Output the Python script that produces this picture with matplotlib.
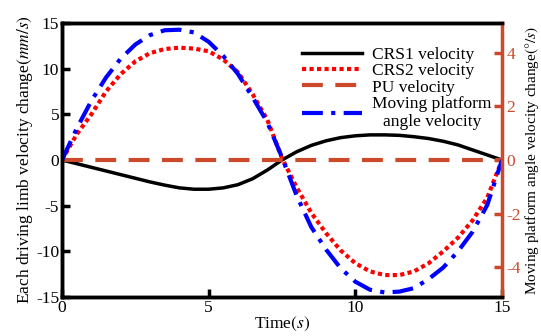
import numpy as np
import matplotlib
matplotlib.use("Agg")
import matplotlib.pyplot as plt

plt.rcParams['font.family'] = ['Liberation Serif', 'DejaVu Serif']
plt.rcParams['mathtext.fontset'] = 'stix'
plt.rcParams['axes.unicode_minus'] = False

time = [0, 0.5, 1, 1.5, 2, 2.5, 3, 3.5, 4, 4.5, 5, 5.5, 6, 6.5, 7, 7.5,
        8, 8.5, 9, 9.5, 10, 10.5, 11, 11.5, 12, 12.5, 13, 13.5, 14, 14.5, 15]
crs1 = [0, -0.4, -0.8, -1.2, -1.6, -2.0, -2.4, -2.75, -3.05, -3.2, -3.2, -3.05, -2.7, -2.05, -1.1, 0,
        0.9, 1.6, 2.1, 2.45, 2.65, 2.75, 2.75, 2.7, 2.55, 2.35, 2.05, 1.65, 1.1, 0.55, 0]
crs2 = [0, 2.8, 5.0, 7.5, 9.4, 10.8, 11.7, 12.15, 12.3, 12.2, 11.9, 11.0, 9.6, 7.2, 4.4, 0.2,
        -3.0, -5.8, -8.0, -9.9, -11.3, -12.2, -12.6, -12.6, -12.2, -11.3, -10.0, -8.5, -6.6, -4.1, 0]
pu = [0] * len(time)
platform = [0, 1.17, 2.2, 3.07, 3.77, 4.3, 4.65, 4.83, 4.85, 4.75, 4.4, 3.87, 3.2, 2.33, 1.4, 0.1,
            -1.33, -2.5, -3.33, -4.03, -4.53, -4.83, -4.93, -4.9, -4.77, -4.43, -4.0, -3.4, -2.67, -1.67, 0]

orange = '#cc4a2b'

fig = plt.figure(figsize=(5.41, 3.36), dpi=100)
ax = fig.add_axes([62/541, 1-297/336, 440/541, 274/336])
ax2 = ax.twinx()

l1, = ax.plot(time, crs1, color='black', lw=2.5, label='CRS1 velocity')
l2, = ax.plot(time, crs2, color='#ff0000', lw=3, ls=(0, (1, 0.8)), label='CRS2 velocity')
l3, = ax.plot(time, pu, color=orange, lw=3, ls=(0, (5, 3)), label='PU velocity')
l4, = ax2.plot(time, platform, color='#0000ff', lw=3, ls=(0, (5, 2, 1, 2)),
               label='Moving platform\nangle velocity')

ax.set_xlim(0, 15)
ax.set_ylim(-15, 15)
ax2.set_ylim(-5.1, 5.1)
ax.set_xticks([0, 5, 10, 15])
ax.set_yticks([-15, -10, -5, 0, 5, 10, 15])
ax2.set_yticks([-4, -2, 0, 2, 4])

for s in ['left', 'bottom', 'top']:
    ax.spines[s].set_linewidth(2.5)
    ax2.spines[s].set_linewidth(2.5)
ax2.spines['right'].set_linewidth(2.5)
ax2.spines['right'].set_color(orange)
ax.spines['right'].set_visible(False)

ax.tick_params(axis='both', direction='in', length=6, width=2.5, labelsize=12.5, pad=2)
ax.tick_params(axis='y', right=False)
ax2.tick_params(axis='y', direction='in', length=6, width=2.5, labelsize=12.5,
                colors=orange, pad=3)

ax.set_xlabel('Time$(s)$', fontsize=12.5, labelpad=-1)
ax.set_ylabel('Each driving limb velocity change$(mm/s)$', fontsize=12.5, labelpad=1)
ax2.set_ylabel(r'Moving platform angle velocity change$(°/s)$', fontsize=11, labelpad=2)

leg = ax.legend(handles=[l1, l2, l3, l4], loc='upper left',
                bbox_to_anchor=(0.545, 0.912), frameon=False, fontsize=12.5,
                handlelength=3.45, handletextpad=0.6, labelspacing=0.0,
                borderaxespad=0, borderpad=0)
for t in leg.get_texts():
    t.set_multialignment('center')

fig.savefig('out.png', dpi=100)
